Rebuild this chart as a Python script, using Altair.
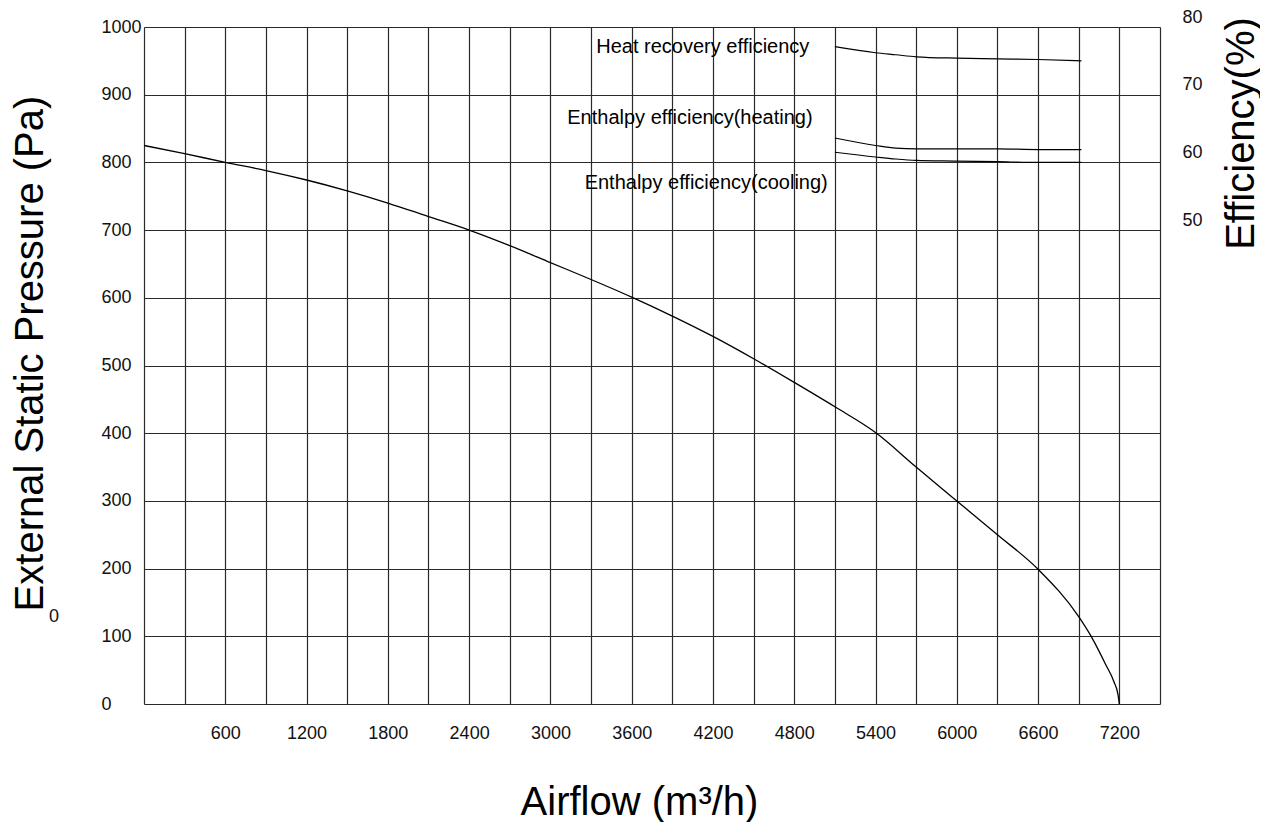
import altair as alt
import pandas as pd

# ---------------- data ----------------
airflow = [0, 300, 600, 900, 1200, 1500, 1800, 2100, 2400, 2700, 3000, 3300, 3600,
           3900, 4200, 4500, 4800, 5100, 5400, 5700, 6000, 6300, 6600, 6900,
           7000, 7100, 7160, 7190, 7200]
pressure = [825, 813, 800, 788, 774, 758, 740, 720, 700, 677, 652, 627, 601,
            573, 543, 510, 475, 439, 401, 350, 300, 250, 199, 129,
            97, 58, 33, 14, 0]

eff_airflow = [5100, 5400, 5550, 5700, 6000, 6300, 6600, 6920]
heat_recovery = [77.1, 76.2, 75.9, 75.6, 75.4, 75.3, 75.2, 75.0]
enthalpy_heating = [63.6, 62.5, 62.1, 62.0, 62.0, 62.0, 61.9, 61.9]
enthalpy_cooling = [61.5, 60.8, 60.5, 60.3, 60.2, 60.1, 60.0, 60.0]

series_names = ["Heat recovery efficiency", "Enthalpy efficiency(heating)",
                "Enthalpy efficiency(cooling)"]
label_airflow = [4125, 4030, 4150]
label_eff = [77.1, 66.6, 57.0]

x_grid = list(range(0, 7501, 300))
x_labels = list(range(600, 7201, 600))
y_grid = list(range(0, 1001, 100))
eff_ticks = [50, 60, 70, 80]

# ---------------- tables ----------------
df_p = pd.DataFrame({"airflow": airflow, "pressure": pressure})
rows = []
for name, vals in zip(series_names, [heat_recovery, enthalpy_heating, enthalpy_cooling]):
    for a, v in zip(eff_airflow, vals):
        rows.append({"airflow": a, "eff": v, "series": name})
df_e = pd.DataFrame(rows)
df_l = pd.DataFrame({"airflow": label_airflow, "eff": label_eff, "text": series_names})
df_z = pd.DataFrame({"text": ["0"]})

FONT = "Liberation Sans"
GRID = "#2a2a2a"

label_expr = "indexof([" + ",".join(str(v) for v in x_labels) + "], datum.value) >= 0 ? datum.label : ''"

x_enc = alt.X(
    "airflow:Q",
    scale=alt.Scale(domain=[0, 7500], nice=False, zero=False),
    axis=alt.Axis(
        values=x_grid, format="d", labelExpr=label_expr,
        grid=True, gridColor=GRID, gridWidth=1.2, gridOpacity=1,
        domain=False, ticks=False, tickSize=0,
        labelPadding=20, labelFont=FONT, labelFontSize=18, labelColor="#111",
        labelBaseline="top", labelAlign="center", labelFlush=False, labelOverlap=False,
        title="Airflow (m³/h)", titleFont=FONT, titleFontSize=40,
        titleFontWeight="normal", titleColor="#000",
        titleX=495, titleY=98, titleAlign="center", titleBaseline="middle",
    ),
)

y_left = alt.Y(
    "pressure:Q",
    scale=alt.Scale(domain=[0, 1000], nice=False, zero=False),
    axis=alt.Axis(
        orient="left", values=y_grid, format="d",
        grid=True, gridColor=GRID, gridWidth=1.2, gridOpacity=1,
        domain=False, ticks=False, tickSize=0,
        labelPadding=43, labelAlign="left", labelBaseline="middle",
        labelFont=FONT, labelFontSize=18, labelColor="#111",
        labelFlush=False, labelOverlap=False,
        title="External Static Pressure (Pa)", titleFont=FONT, titleFontSize=40,
        titleFontWeight="normal", titleColor="#000", titleAngle=270,
        titleX=-114, titleY=326, titleAlign="center", titleBaseline="middle",
    ),
)

y_right = alt.Y(
    "eff:Q",
    scale=alt.Scale(domain=[-20, 80], nice=False, zero=False),
    axis=alt.Axis(
        orient="right", values=eff_ticks, format="d",
        grid=False, domain=False, ticks=False, tickSize=0,
        labelPadding=22, labelAlign="left", labelBaseline="middle", labelOffset=-10,
        labelFont=FONT, labelFontSize=18, labelColor="#111",
        labelFlush=False, labelOverlap=False,
        title="Efficiency(%)", titleFont=FONT, titleFontSize=40,
        titleFontWeight="normal", titleColor="#000", titleAngle=270,
        titleX=81, titleY=106, titleAlign="center", titleBaseline="middle",
    ),
)

pressure_line = alt.Chart(df_p).mark_line(
    color="#000", strokeWidth=1.3, interpolate="monotone"
).encode(x=x_enc, y=y_left)

eff_lines = alt.Chart(df_e).mark_line(
    color="#000", strokeWidth=1.2, interpolate="monotone"
).encode(x=x_enc, y=y_right, detail="series:N")

eff_labels = alt.Chart(df_l).mark_text(
    font=FONT, fontSize=20, color="#000", align="center", baseline="middle"
).encode(
    x=x_enc,
    y=alt.Y("eff:Q", scale=alt.Scale(domain=[-20, 80], nice=False, zero=False), axis=None),
    text="text:N",
)

stray_zero = alt.Chart(df_z).mark_text(
    font=FONT, fontSize=18, color="#111", align="center", baseline="middle"
).encode(x=alt.value(-90), y=alt.value(590), text="text:N")

chart = alt.layer(pressure_line, eff_lines, eff_labels, stray_zero).resolve_scale(
    y="independent"
).properties(
    width=1016, height=677,
    autosize=alt.AutoSizeParams(type="none"),
    padding={"left": 136, "top": 19, "right": 100, "bottom": 118},
    background="white",
).configure_view(stroke=None)

chart.save("out.html", embed_options={"renderer": "svg", "actions": False})
